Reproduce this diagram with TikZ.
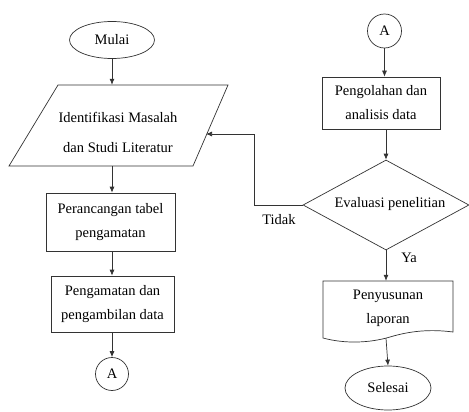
\documentclass[tikz,border=0pt]{standalone}
\usepackage{fontspec}
\setmainfont{Liberation Serif}
\usetikzlibrary{shapes.geometric,arrows.meta,calc}
\begin{document}
\begin{tikzpicture}[x=1pt,y=-1pt,
  every node/.style={font=\fontsize{14.5}{24}\selectfont, inner sep=0pt},
  ln/.style={line width=0.7pt, draw=black!80},
  arr/.style={ln, -{Latex[length=6pt,width=5pt]}},
  proc/.style={draw=black!80, line width=0.7pt, rectangle, align=center},
  term/.style={draw=black!80, line width=0.7pt, ellipse, minimum width=85pt, minimum height=37pt},
  conn/.style={draw=black!80, line width=0.7pt, circle, minimum size=34pt},
  lbl/.style={font=\fontsize{14.5}{17}\selectfont}
]
\useasboundingbox (0,0) rectangle (469,412);
\fill[white] (0,0) rectangle (469,412);

% left column
\node[term] (mulai) at (112,40) {Mulai};
\node[minimum width=150pt, minimum height=81pt] (id) at (112,125.5) {};
\draw[ln] (58,85) -- (228,85) -- (193,166) -- (9,166) -- cycle;
\node[align=center, font=\fontsize{14.5}{30}\selectfont] (idt) at (118,132) {Identifikasi Masalah\\dan Studi Literatur};
\coordinate (idr) at (206,134);
\node[proc, minimum width=129pt, minimum height=58pt] (p1) at (110.5,222) {Perancangan tabel\\pengamatan};
\node[proc, minimum width=123pt, minimum height=56pt] (p2) at (112.5,304) {Pengamatan dan\\pengambilan data};
\node[conn, minimum size=33pt] (a1) at (112,374) {A};

\draw[arr] (mulai.south) -- (id.north);
\draw[arr] (id.south) -- (id.south |- p1.north);
\draw[arr] (p1.south -| id.south) -- (id.south |- p2.north);
\draw[arr] (p2.south -| id.south) -- (a1.north);

% right column
\node[conn] (a2) at (384.5,31) {A};
\node[proc, minimum width=118pt, minimum height=52pt] (p3) at (381,103) {Pengolahan dan\\analisis data};
\node[draw=black!80, line width=0.7pt, diamond, minimum width=166pt, minimum height=90pt, aspect=1.84] (ev) at (386,205) {};
\node (evt) at (390,204) {Evaluasi penelitian};
\node[minimum width=130pt, minimum height=57pt] (doc) at (388,309.5) {};
\draw[ln] (323,281) -- (453,281) -- (453,332)
  .. controls (430,329) and (410,331) .. (390,337)
  .. controls (370,343) and (345,344) .. (323,338) -- cycle;
\node[align=center] (doct) at (388,308) {Penyusunan\\laporan};
\node[term, minimum width=86pt, minimum height=44pt] (selesai) at (388,388) {Selesai};

\draw[arr] (a2.south) -- (a2.south |- p3.north);
\draw[arr] (p3.south -| ev.north) -- (ev.north);
\draw[arr] (ev.south) -- (ev.south |- doc.north);
\draw[arr] (ev.south |- doc.south) -- (selesai.north);
\draw[arr] (ev.west) -- (254,205) -- (254,134) -- (idr);

\node[lbl] (ya) at (409,258) {Ya};
\node[lbl] (tidak) at (279,220) {Tidak};
\end{tikzpicture}
\end{document}
